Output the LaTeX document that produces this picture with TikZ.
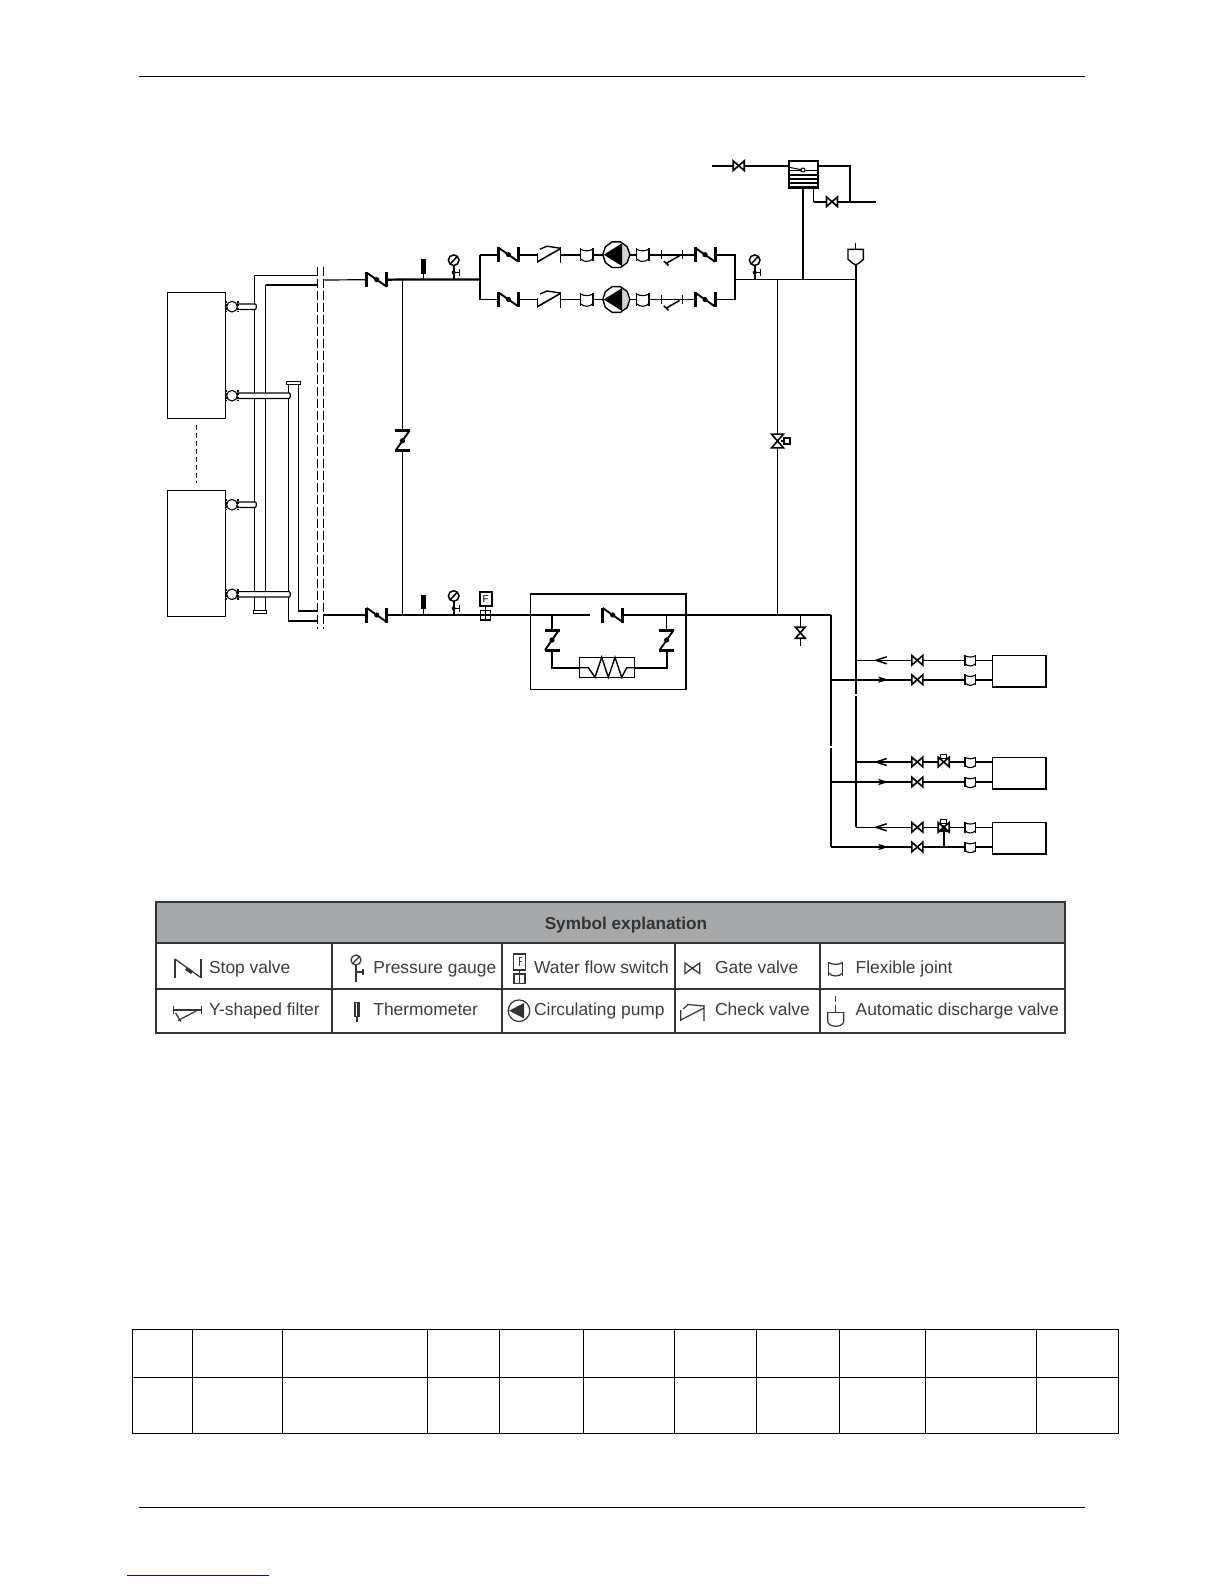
\documentclass[tikz,border=0pt]{standalone}
\usepackage{fontspec}
\setmainfont{Liberation Sans}
\definecolor{legline}{HTML}{333333}
\definecolor{legtext}{HTML}{3C3C3C}
\definecolor{leghead}{HTML}{A6A8A9}
\definecolor{linkblue}{HTML}{10108C}
\tikzset{
  thinp/.style={line width=0.6pt},
  thickp/.style={line width=1.1pt},
  eqbox/.style={draw,line width=0.6pt,inner sep=0pt,fill=white},
  legtxt/.style={anchor=base west,inner sep=0pt,text=legtext,font=\fontsize{8.7}{10}\selectfont},
  leghd/.style={anchor=base,inner sep=0pt,text=legline,font=\bfseries\fontsize{8.6}{10}\selectfont},
  stopv/.pic={
    \fill[white] (-10,-6) rectangle (10,6);
    \draw[line width=0.95pt] (-10,-7)--(10,7);
    \draw[line width=1.5pt] (-10,-7.5)--(-10,7.5) (10,-7.5)--(10,7.5);
    \fill (0,0) circle (2.6);
  },
  gatev/.pic={
    \fill[white] (-5.5,-4.5) rectangle (5.5,4.5);
    \draw[line width=0.8pt] (-5.5,-4.8)--(5.5,4.8)--(5.5,-4.8)--(-5.5,4.8)--cycle;
  },
  flexj/.pic={
    \fill[white] (-5.3,-5) rectangle (5.3,5);
    \draw[line width=0.65pt] (-5.3,-5.4)--(-5.3,5.4) (5.3,-5.4)--(5.3,5.4);
    \draw[line width=0.55pt] (-5.3,-4.6) .. controls (-2,-2.8) and (2,-2.8) .. (5.3,-4.6);
    \draw[line width=0.55pt] (-5.3,3.4) .. controls (-2,6.4) and (2,6.4) .. (5.3,3.4);
  },
  flexr/.pic={
    \fill[white] (0,0) circle (5.5);
    \draw[line width=0.55pt] (0,0) circle (5.3);
    \draw[line width=0.55pt,dash pattern=on 1pt off 0.6pt] (-6,-5.5)--(-6,5.5) (6,-5.5)--(6,5.5);
  },
  checkv/.pic={
    \fill[white] (-11,-6) rectangle (11,7);
    \draw[line width=0.7pt] (-11.3,-1.5)--(-11.3,8) (11.3,-7.5)--(11.3,8);
    \draw[line width=0.8pt] (-11.3,7)--(11.3,-6);
    \draw[line width=0.7pt] (-9,-5.5)--(-2,-8.5)--(11.3,-6.5);
  },
  yfilt/.pic={
    \draw[line width=0.55pt] (-10.5,-4.5)--(-10.5,4) (10.5,-4.5)--(10.5,4);
    \draw[line width=0.75pt] (7.5,1)--(-5.5,8.5) (-8.2,6.3)--(-3.5,10.8);
  },
  pumpsym/.pic={
    \fill[white] (0,0) circle (13);
    \fill[gray!35] (5,-11)--(5,11)--(12,6)--(12,-6)--cycle;
    \draw[line width=0.7pt] (0:13.5) \foreach \a in {36,72,...,324}{--(\a:13.5)} --cycle;
    \fill (-12.5,0)--(5.8,-11.5)--(5.8,11.5)--cycle;
  },
  gaugesym/.pic={
    \draw[line width=0.75pt] (0,-19.3) circle (5.3);
    \draw[line width=0.75pt] (-3.5,-15.5)--(3.5,-23);
    \draw[line width=0.85pt] (0,-14)--(0,0);
    \draw[line width=0.75pt] (-1,-7)--(5.6,-7) (5.6,-10.5)--(5.6,-3.5);
    \fill (0,-7) circle (2);
  },
  thermosym/.pic={
    \fill (-2.3,-20.5) rectangle (2.3,-6);
    \draw[line width=0.5pt] (0,-6)--(0,0);
  },
  flowsw/.pic={
    \draw[line width=1pt,fill=white] (-6,-23.3) rectangle (6,-9.3);
    \node[inner sep=0pt,font=\fontsize{5}{5}\selectfont] (-f) at (0,-16.3) {F};
    \draw[line width=0.55pt] (0,-9.3)--(0,-4.3);
    \draw[line width=0.7pt,fill=white] (-5,-4.5) rectangle (5,4.8);
    \draw[line width=0.55pt] (-5,0)--(5,0) (0,-4.5)--(0,4.8);
  },
  autov/.pic={
    \draw[fill=white,line width=0.7pt] (-7.7,0)--(7.7,0)--(7.7,10)--(3,14)--(0,15.5)--(-3,14)--(-7.7,10)--cycle;
  }
}
\begin{document}
\begin{tikzpicture}[x=0.5pt,y=-0.5pt,line cap=butt]
\useasboundingbox (0,0) rectangle (1224,1584);
\fill[white] (0,0) rectangle (1224,1584);

% ---------- page rules ----------
\draw[line width=0.7pt] (139,76.3)--(1084.7,76.3);
\draw[line width=0.7pt] (139,1507.3)--(1084.7,1507.3);
\draw[line width=0.7pt,linkblue] (127,1575.3)--(268.7,1575.3);

% ---------- equipment boxes ----------
\node[eqbox,minimum width=29.2pt,minimum height=63pt] (ahu1) at (196.5,355.3) {};
\node[eqbox,minimum width=29.2pt,minimum height=62.9pt] (ahu2) at (196.5,553.2) {};
\node[eqbox,line width=0.8pt,fill=none,minimum width=77.7pt,minimum height=47.8pt] (heatbox) at (608,641.5) {};
\node[eqbox,line width=0.7pt,minimum width=27.3pt,minimum height=10pt] (heater) at (607,667.3) {};
\node[eqbox,line width=1pt,minimum width=14.8pt,minimum height=13.8pt] (tank) at (803.5,174.5) {};
\node[eqbox,minimum width=26.7pt,minimum height=15.3pt] (unitA) at (1019,671) {};
\node[eqbox,minimum width=26.7pt,minimum height=15.5pt] (unitB) at (1019,772.8) {};
\node[eqbox,minimum width=26.7pt,minimum height=15.5pt] (unitC) at (1019,837.8) {};
\foreach \u in {unitA,unitB,unitC}
  \draw[line width=1pt] (\u.south west)--(\u.south east)--(\u.north east);
\draw[line width=0.5pt,dash pattern=on 2.5pt off 1.5pt] (196.7,425)--(196.7,483);

% ---------- key points ----------
\coordinate (dashU) at (323.3,280);
\coordinate (dashL) at (323.3,615);
\coordinate (jU) at (402.5,279.5);
\coordinate (jL) at (402.5,615);
\coordinate (branchL) at (480.3,279.5);
\coordinate (branchR) at (735,279.5);
\coordinate (rowT) at (480.3,254.7);
\coordinate (rowB) at (480.3,299.5);
\coordinate (jV) at (777.5,279.5);
\coordinate (jR) at (803,279.5);
\coordinate (jA) at (855.7,279.5);
\coordinate (jS) at (831,615);
\coordinate (r1) at (855.7,660.3);
\coordinate (r2) at (831,679.7);
\coordinate (r3) at (855.7,762);
\coordinate (r4) at (831,782);
\coordinate (r5) at (855.7,827.3);
\coordinate (r6) at (831,847);

% ---------- main circuit ----------
\draw[thinp] (dashU)--(jU);
\draw[thickp] (388,279.7)--(jU)--(branchL);
\draw[thinp] (dashL)--(jL);
\draw[thinp] (jU)--(jL);
\draw[thinp] (jL)--(jS);
\fill[white] (590,612) rectangle (602,618);
\draw[thickp] (jS)--(r2);
\draw[thickp] (r2)--(831,746);
\draw[thickp] (831,747.5)--(r6);
\draw[thickp] (branchL)--(rowT);
\draw[thickp] (branchL)--(rowB);
\draw[thickp] (rowT)--(rowT -| branchR)--(branchR);
\draw[thinp] (rowB)--(rowB -| branchR)--(branchR);
\draw[thinp] (branchR)--(jA);
\draw[thickp] (jR)--(jR |- tank.south);
\draw[thinp] (jV)--(777.5,615);
\draw[thinp] (800.3,615)--(800.3,645.7);
\draw[thickp] (855.7,249.3)--(855.7,694);
\draw[thickp] (855.7,696)--(r5);

% ---------- expansion tank piping ----------
\coordinate (inlet) at (712.3,165.7);
\coordinate (overT) at (850,165.7);
\coordinate (overB) at (850,201.7);
\coordinate (drainT) at (813.7,188.3);
\coordinate (drainB) at (813.7,201.7);
\coordinate (drainE) at (876,201.7);
\draw[thickp] (inlet)--(inlet -| tank.west);
\draw[thickp] (tank.east |- overT)--(overT)--(overB);
\draw[thinp] (drainT)--(drainB);
\draw[thickp] (drainB)--(drainE);
\foreach \yy in {170.8,175,179,183,187}
  \draw[line width=0.6pt] (788.7,\yy)--(818.3,\yy);
\draw[line width=0.5pt] (790,167.5)--(803,170);
\draw[line width=0.5pt,fill=white] (803,170) circle (2);
\pic at (738.7,165.7) {gatev};
\pic at (832,201.7) {gatev};

% ---------- heat-exchanger group ----------
\coordinate (hL) at (552,615);
\coordinate (hR) at (666.7,615);
\draw[thinp] (hL)--(552,629);
\draw[thickp] (552,651)--(552,667.7)--(heater.west |- 552,667.7);
\draw[thinp] (hR)--(666.7,629);
\draw[thickp] (666.7,651)--(666.7,667.7)--(heater.east |- 666.7,667.7);
\draw[line width=0.7pt] (579.7,667.7)--(588.3,667.7)--(595,677.3)--(601.7,657.3)--(608.3,677.3)--(615,657.3)--(621.7,677.3)--(626.7,667.7)--(634.3,667.7);
\pic[rotate=90] at (552,640) {stopv};
\pic[rotate=90] at (666.7,640) {stopv};
\pic at (612.7,615) {stopv};

% ---------- parallel pump rows ----------
\foreach \yy in {254.7,299.5}{
  \pic at (508.5,\yy) {stopv};
  \pic at (549,\yy) {checkv};
  \pic[scale=1.2] at (586.7,\yy) {flexj};
  \pic at (616.3,\yy) {pumpsym};
  \pic[scale=1.2] at (642.7,\yy) {flexj};
  \pic at (672,\yy) {yfilt};
  \pic at (705,\yy) {stopv};
}

% ---------- line instruments ----------
\pic at (376.7,279.7) {stopv};
\pic at (376.7,615) {stopv};
\pic[rotate=90] at (402.5,440.7) {stopv};
\pic at (423.3,279.5) {thermosym};
\pic at (453.7,279.5) {gaugesym};
\pic at (754.7,279.5) {gaugesym};
\pic at (423.3,615) {thermosym};
\pic at (453.7,615.3) {gaugesym};
\pic (fs1) at (485.7,615) {flowsw};
\pic[rotate=90,scale=1.25] at (777.5,441) {gatev};
\draw[line width=0.6pt,fill=white] (784,438) rectangle (790,444);
\draw[line width=0.6pt] (781,441)--(784,441);
\pic[rotate=90] at (800.3,632.7) {gatev};
\draw[thinp] (855.7,243.3)--(855.7,249.3);
\pic at (855.7,249.3) {autov};

% ---------- terminal branches ----------
\draw[thinp] (r1)--(r1 -| unitA.west);
\draw[thickp] (r2)--(r2 -| unitA.west);
\draw[thickp] (r3)--(r3 -| unitB.west);
\draw[thickp] (r4)--(r4 -| unitB.west);
\draw[thinp] (r5)--(r5 -| unitC.west);
\draw[thickp] (r6)--(r6 -| unitC.west);
\foreach \yy in {660.3,679.7,762,782,827.3,847}{
  \pic at (917.3,\yy) {gatev};
  \pic at (970.3,\yy) {flexj};
}
\foreach \yy in {660.3,762,827.3}
  \draw[line width=0.75pt] (886.7,\yy-3.5)--(876,\yy)--(886.7,\yy+3.5);
\foreach \yy in {679.7,782,847}
  \fill (878,\yy-3.2)--(888.5,\yy)--(878,\yy+3.2)--(880.5,\yy)--cycle;
\pic at (943.7,762) {gatev};
\draw[line width=0.7pt,fill=white] (940.3,754.3) rectangle (946.7,758.3);
\draw[line width=1pt] (943.7,827.3)--(943.7,847);
\pic at (943.7,827.3) {gatev};
\fill (938.5,832)--(948.9,832)--(943.7,825)--cycle;
\draw[line width=0.7pt,fill=white] (940.3,819.3) rectangle (946.7,823.3);

% ---------- left risers ----------
\draw[line width=0.6pt] (317.7,275.3)--(254.7,275.3)--(254.7,610);
\draw[line width=0.6pt] (265.7,284.7)--(265.7,610);
\draw[thickp] (317.7,284.7)--(265.7,284.7);
\draw[line width=0.6pt] (317.7,621)--(288.7,621)--(288.7,382.7);
\draw[line width=0.6pt] (317.7,611)--(298.3,611)--(298.3,382.7);
\draw[line width=0.55pt,fill=white] (286.7,381.3) rectangle (300.7,384.3);
\draw[line width=0.55pt,fill=white] (253.3,610.3) rectangle (266.7,613.3);
\draw[line width=0.7pt,dash pattern=on 4.6pt off 1.4pt] (317.7,267)--(317.7,629);
\draw[line width=0.7pt,dash pattern=on 4.6pt off 1.4pt] (323.3,267)--(323.3,629);
\foreach \yy/\xe in {306.7/256.7,504.7/256.7,395.7/290.7,594.3/290.7}{
  \draw[line width=0.6pt,fill=white] (237,\yy-2.7)--(\xe-1.5,\yy-2.7) .. controls (\xe,\yy-2.7) and (\xe,\yy+2.7) .. (\xe-1.5,\yy+2.7)--(237,\yy+2.7);
  \pic at (232,\yy) {flexr};
}

% ---------- symbol table ----------
\fill[leghead] (156,901.7) rectangle (1064.7,942.7);
\draw[line width=1pt,legline] (156,901.7) rectangle (1064.7,1032.7);
\draw[line width=0.9pt,legline] (156,942.7)--(1064.7,942.7);
\draw[line width=0.9pt,legline] (156,989.3)--(1064.7,989.3);
\foreach \xx in {331.7,501.7,674.7,820}
  \draw[line width=0.9pt,legline] (\xx,942.7)--(\xx,1032.7);
\node[leghd] (lhead) at (626,929) {Symbol explanation};
\node[legtxt] (t1) at (208.7,973) {Stop valve};
\node[legtxt] (t2) at (373,973) {Pressure gauge};
\node[legtxt] (t3) at (533.7,973) {Water flow switch};
\node[legtxt] (t4) at (714.7,973) {Gate valve};
\node[legtxt] (t5) at (855.3,973) {Flexible joint};
\node[legtxt] (t6) at (208.7,1015.7) {Y-shaped filter};
\node[legtxt] (t7) at (373,1015.7) {Thermometer};
\node[legtxt] (t8) at (533.7,1015.7) {Circulating pump};
\node[legtxt] (t9) at (714.7,1015.7) {Check valve};
\node[legtxt] (t10) at (855.3,1015.7) {Automatic discharge valve};

\begin{scope}[draw=legline,fill=legline,line width=0.6pt]
 % stop valve
 \draw[line width=0.8pt] (175,977.7)--(175,959);
 \draw (175,959)--(200,977);
 \draw[line width=0.8pt] (200.7,977.7)--(200.7,959);
 \fill (187,967)--(193,971)--(191,974)--(185,970)--cycle;
 % pressure gauge
 \draw (356,960) circle (5);
 \draw (352.7,963.5)--(359.3,956.5);
 \draw (356,965)--(356,981.7) (356,972)--(363,972) (363,969)--(363,975);
 % water flow switch
 \draw (513.3,954) rectangle (525.7,970);
 \draw (519.3,970)--(519.3,974);
 \draw (514,974) rectangle (525,983.3);
 \draw (519.5,974)--(519.5,983.3);
 \draw[line width=0.4pt] (519,957)--(519,966) (519,957)--(522,957) (519,961)--(521.5,961);
 % gate valve
 \draw (685,963)--(699.7,973.5)--(699.7,963)--(685,973.5)--cycle;
 % flexible joint
 \draw (828.7,962)--(828.7,976) (842.7,962)--(842.7,976);
 \draw (828.7,962.5) .. controls (832,965) and (839,965) .. (842.7,962.5);
 \draw (828.7,973) .. controls (832,977) and (839,977) .. (842.7,973);
 % y filter
 \draw (173.3,1006)--(173.3,1014) (201.7,1006)--(201.7,1014) (173.3,1010)--(201.7,1010);
 \draw (197,1010.5)--(178,1020.5) (175.5,1013)--(181,1021.5);
 % thermometer
 \draw (355,1002.3) rectangle (359,1016.7);
 \fill (356.8,1002.3) rectangle (359,1016.7);
 \draw (357,1016.7)--(357,1021.7);
 % pump
 \draw[fill=none] (519,1010.7) circle (10.8);
 \fill (509,1010.7)--(524,1003)--(524,1018.4)--cycle;
 % check valve
 \draw (680.7,1010)--(680.7,1021) (704,1005)--(704,1021) (680.7,1020)--(704,1008);
 \draw (683,1009)--(688,1004.5)--(704,1006);
 % automatic discharge valve
 \draw (835.7,996)--(835.7,1002) (835.7,1005)--(835.7,1012.3);
 \draw (826.7,1012.3)--(844.3,1012.3);
 \draw (827.7,1012.3)--(827.7,1021) .. controls (827.7,1028) and (843.7,1028) .. (843.7,1021)--(843.7,1012.3);
\end{scope}

% ---------- blank table ----------
\draw[line width=0.7pt] (132.3,1329.3) rectangle (1118.3,1433.3);
\draw[line width=0.7pt] (132.3,1377.3)--(1118.3,1377.3);
\foreach \xx in {192.3,282.3,427.3,499.3,583.3,674.3,756.3,839.3,925.3,1036.3}
  \draw[line width=0.7pt] (\xx,1329.3)--(\xx,1433.3);
\end{tikzpicture}
\end{document}
